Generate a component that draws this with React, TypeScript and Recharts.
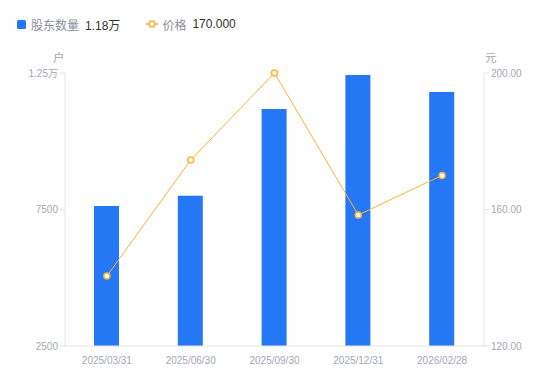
import React from "react";
import { ComposedChart, Bar, Line, XAxis, YAxis } from "recharts";

const categories = ["2025/03/31", "2025/06/30", "2025/09/30", "2025/12/31", "2026/02/28"];
const holders = [7630, 8000, 11180, 12430, 11800];
const prices = [140.5, 174.5, 200, 158.4, 170];
const leftTicks = [2500, 7500, 12500];
const rightTicks = [120, 160, 200];

const data = categories.map((c, i) => ({ date: c, holders: holders[i], price: prices[i] }));

const FONT = "'Liberation Sans', Arial, 'Noto Sans CJK SC', sans-serif";
const BLUE = "#2477F5";
const ORANGE = "#FFB233";
const TICK = "#A3A7B5";
const AXIS = "#E3E4E8";

const fmtLeft = (v: number) => (v >= 10000 ? `${(v / 10000).toFixed(2).replace(/0+$/, "").replace(/\.$/, "")}万` : `${v}`);
const fmtRight = (v: number) => v.toFixed(2);

export default function App() {
  return (
    <div style={{ position: "absolute", left: 0, top: 0, width: 550, height: 381, fontFamily: FONT, background: "#fff" }}>
      <div style={{ position: "absolute", left: 17, top: 15, height: 18, display: "flex", alignItems: "center", fontSize: 12, whiteSpace: "nowrap" }}>
        <span style={{ display: "inline-block", width: 9, height: 9, background: BLUE, borderRadius: 1.5, marginRight: 5 }} />
        <span style={{ color: "#8C8F9C" }}>股东数量</span>
        <span style={{ color: "#333", marginLeft: 6 }}>1.18万</span>
        <svg width={12} height={10} style={{ marginLeft: 26, marginRight: 4 }}>
          <line x1={0} y1={5} x2={12} y2={5} stroke={ORANGE} strokeWidth={1.5} />
          <circle cx={6} cy={5} r={3} fill="#fff" stroke={ORANGE} strokeWidth={1.5} />
        </svg>
        <span style={{ color: "#8C8F9C" }}>价格</span>
        <span style={{ color: "#333", marginLeft: 6 }}>170.000</span>
      </div>
      <div style={{ position: "absolute", left: 53, top: 49, fontSize: 11.5, color: TICK }}>户</div>
      <div style={{ position: "absolute", left: 485, top: 49, fontSize: 11.5, color: TICK }}>元</div>
      <ComposedChart width={550} height={381} data={data} margin={{ top: 73, right: 0, bottom: 0, left: 0 }}>
        <XAxis
          dataKey="date"
          height={35}
          tickLine={false}
          axisLine={{ stroke: AXIS }}
          tick={{ fill: TICK, fontSize: 10, fontFamily: FONT }}
          tickMargin={5}
          interval={0}
        />
        <YAxis
          yAxisId="left"
          width={65}
          domain={[2500, 12500]}
          ticks={leftTicks}
          tickFormatter={fmtLeft}
          tickSize={5}
          tickLine={{ stroke: AXIS }}
          axisLine={{ stroke: AXIS }}
          tick={{ fill: TICK, fontSize: 10, fontFamily: FONT }}
        />
        <YAxis
          yAxisId="right"
          orientation="right"
          width={66}
          domain={[120, 200]}
          ticks={rightTicks}
          tickFormatter={fmtRight}
          tickSize={5}
          tickLine={{ stroke: AXIS }}
          axisLine={{ stroke: AXIS }}
          tick={{ fill: TICK, fontSize: 10, fontFamily: FONT }}
        />
        <Bar yAxisId="left" dataKey="holders" fill={BLUE} barSize={25} isAnimationActive={false} />
        <Line
          yAxisId="right"
          dataKey="price"
          stroke={ORANGE}
          strokeWidth={1}
          dot={{ r: 3, fill: "#fff", stroke: ORANGE, strokeWidth: 1.5, clipDot: false }}
          activeDot={false}
          isAnimationActive={false}
        />
      </ComposedChart>
    </div>
  );
}
